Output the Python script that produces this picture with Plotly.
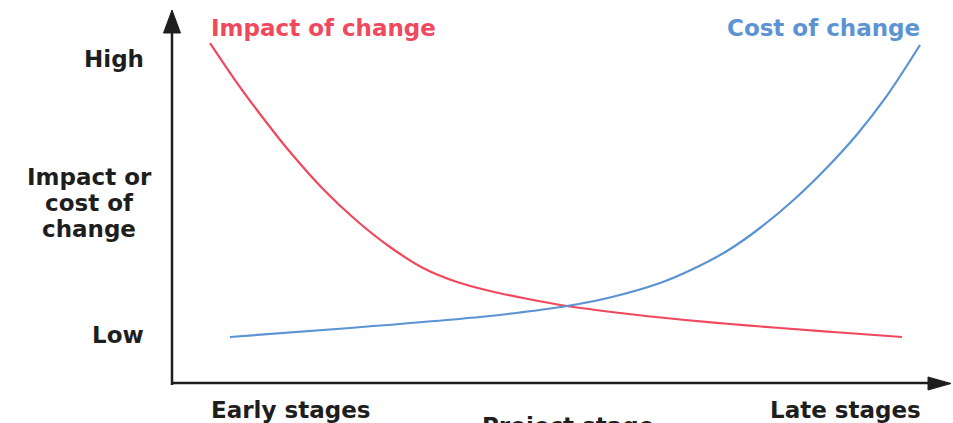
import plotly.graph_objects as go

# Project progress (0 = start, 100 = end) and relative level (0 = low, 100 = high)
stage_impact = [4.90, 8.76, 12.63, 15.21, 19.46, 23.84, 28.09, 32.35, 36.73, 40.98,
                45.88, 50.90, 57.73, 65.46, 71.91, 78.35, 86.08, 94.07]
impact = [91.64, 79.78, 69.00, 62.26, 52.29, 43.67, 36.66, 31.00, 27.22, 24.80,
          22.64, 20.75, 18.87, 17.12, 15.90, 14.83, 13.61, 12.40]

stage_cost = [7.47, 22.94, 39.69, 44.85, 50.90, 56.44, 62.89, 67.14, 71.52, 75.77,
              80.03, 84.41, 88.27, 91.88, 96.39]
cost = [12.40, 14.83, 17.79, 19.00, 20.75, 23.05, 26.95, 30.73, 35.58, 41.78,
        49.19, 58.09, 66.98, 76.69, 91.11]

series_names = ["Impact of change", "Cost of change"]
y_levels = ["High", "Low"]
y_title_lines = ["Impact or", "cost of", "change"]
x_labels = ["Early stages", "Late stages"]
x_title = "Project stage"

RED = "#F0485C"
BLUE = "#5B93D3"
INK = "#1E1E1E"
FONT = "DejaVu Sans"

W, H = 953, 423
# screen layout of the drawing: axis origin and extents in pixels
OX, OY = 172, 383
X_END, Y_END = 948, 12


def X(px):
    return (px - OX) / (X_END - OX) * 100


def Y(py):
    return (OY - py) / (OY - Y_END) * 100


fig = go.Figure()
fig.add_trace(go.Scatter(x=stage_impact, y=impact, mode="lines", name=series_names[0],
                         line=dict(color=RED, width=2.2, shape="spline", smoothing=1.0)))
fig.add_trace(go.Scatter(x=stage_cost, y=cost, mode="lines", name=series_names[1],
                         line=dict(color=BLUE, width=2.2, shape="spline", smoothing=1.0)))

# axes with arrowheads
shapes = [
    dict(type="line", x0=X(172), y0=Y(385), x1=X(172), y1=Y(28),
         line=dict(color=INK, width=2.5)),
    dict(type="path", path=f"M {X(172)},{Y(10)} L {X(163.5)},{Y(33)} L {X(180.5)},{Y(33)} Z",
         fillcolor=INK, line=dict(color=INK, width=1)),
    dict(type="line", x0=X(171), y0=Y(383), x1=X(932), y1=Y(383),
         line=dict(color=INK, width=2.5)),
    dict(type="path", path=f"M {X(951)},{Y(383.5)} L {X(928)},{Y(377)} L {X(928)},{Y(390)} Z",
         fillcolor=INK, line=dict(color=INK, width=1)),
]

ann = []


def text(s, px, py, color=INK, xanchor="center", yanchor="middle", size=23):
    ann.append(dict(text=s, x=X(px), y=Y(py), xref="x", yref="y", showarrow=False,
                    xanchor=xanchor, yanchor=yanchor,
                    font=dict(family=FONT, size=size, color=color, weight="bold")))


text(series_names[0], 209, 28, color=RED, xanchor="left")
text(series_names[1], 922, 28, color=BLUE, xanchor="right")
text(y_levels[0], 146, 59, xanchor="right")
text(y_levels[1], 146, 335, xanchor="right")
for line, py in zip(y_title_lines, [177, 203, 229]):
    text(line, 89, py)
text(x_labels[0], 209, 410, xanchor="left")
text(x_labels[1], 923, 410, xanchor="right")
# the axis title sits at the lower edge of the page
text(x_title, 480, 411, xanchor="left", yanchor="top")

fig.update_layout(
    width=W, height=H,
    margin=dict(l=0, r=0, t=0, b=0),
    paper_bgcolor="white", plot_bgcolor="white",
    showlegend=False,
    shapes=shapes,
    annotations=ann,
    xaxis=dict(range=[X(0), X(W)], visible=False, fixedrange=True),
    yaxis=dict(range=[Y(H), Y(0)], visible=False, fixedrange=True),
)

fig.write_html("out.html")
